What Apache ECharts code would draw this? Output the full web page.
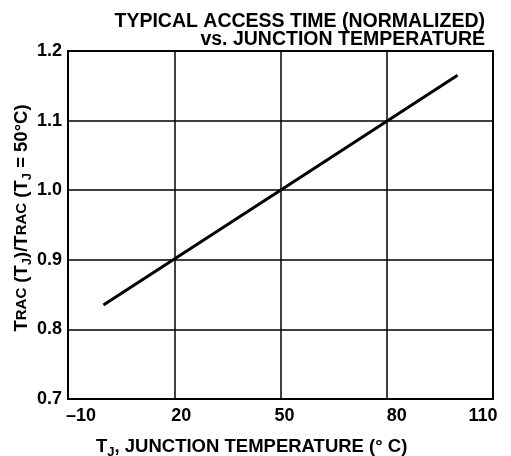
<!DOCTYPE html>
<html>
<head>
<meta charset="utf-8">
<script src="https://cdn.jsdelivr.net/npm/echarts@6/dist/echarts.min.js"></script>
<style>html,body{margin:0;padding:0;background:#fff}#c{width:511px;height:456px}</style>
</head>
<body>
<div id="c"></div>
<script>
// Data
const temperatures = [0, 50, 100];
const normalizedAccess = [0.835, 1.0, 1.165];
const xTicks = [-10, 20, 50, 80, 110];
const yTicks = [0.7, 0.8, 0.9, 1.0, 1.1, 1.2];

const FONT = '"Liberation Sans", Arial, Helvetica, sans-serif';
const chart = echarts.init(document.getElementById('c'), null, {renderer: 'canvas'});
const series = temperatures.map((t, i) => [t, normalizedAccess[i]]);

const xl = {fontFamily: FONT, fontSize: 18, fontWeight: 'bold', color: '#000'};
const xRich = {
  p0: Object.assign({padding: [0, 0, 0, 26]}, xl),
  p1: Object.assign({padding: [0, 0, 0, 14]}, xl),
  p2: Object.assign({padding: [0, 0, 0, 8]}, xl),
  p3: Object.assign({padding: [0, 0, 0, 20]}, xl),
  p4: Object.assign({padding: [0, 20, 0, 0]}, xl)
};

chart.setOption({
  backgroundColor: '#fff',
  animation: false,
  textStyle: {fontFamily: FONT},
  grid: {left: 68, right: 18, top: 51, bottom: 57, show: true, borderColor: '#000', borderWidth: 2},
  title: [
    {text: 'TYPICAL ACCESS TIME (NORMALIZED)', right: 21, top: 7,
     textStyle: {fontFamily: FONT, fontSize: 19.5, fontWeight: 'bold', color: '#000'}},
    {text: 'vs. JUNCTION TEMPERATURE', right: 21, top: 25,
     textStyle: {fontFamily: FONT, fontSize: 19.5, fontWeight: 'bold', color: '#000'}},
    {text: '{a|T}{s|J}{a|, JUNCTION TEMPERATURE (° C)}', left: 91, top: 430,
     textStyle: {fontFamily: FONT, rich: {
       a: {fontFamily: FONT, fontSize: 18.5, fontWeight: 'bold', color: '#000', lineHeight: 24, verticalAlign: 'middle'},
       s: {fontFamily: FONT, fontSize: 13, fontWeight: 'bold', color: '#000', lineHeight: 13, verticalAlign: 'bottom'}
     }}}
  ],
  graphic: [{
    type: 'text', x: 22, y: 218, rotation: Math.PI / 2,
    style: {
      text: '{a|T}{b|RAC}{a| (T}{s|J}{a|)/T}{b|RAC}{a| (T}{s|J}{a| = 50°C)}',
      align: 'center', verticalAlign: 'middle',
      rich: {
        a: {fontFamily: FONT, fontSize: 18.5, fontWeight: 'bold', fill: '#000', lineHeight: 24, verticalAlign: 'middle'},
        b: {fontFamily: FONT, fontSize: 15, fontWeight: 'bold', fill: '#000', lineHeight: 24, verticalAlign: 'middle'},
        s: {fontFamily: FONT, fontSize: 13, fontWeight: 'bold', fill: '#000', lineHeight: 13, verticalAlign: 'bottom'}
      }
    }
  }],
  xAxis: {
    type: 'value', min: xTicks[0], max: xTicks[xTicks.length - 1], interval: 30,
    axisLine: {onZero: false, lineStyle: {color: '#000', width: 2}},
    axisTick: {show: false},
    splitLine: {lineStyle: {color: '#000', width: 1.5}},
    axisLabel: {margin: 8, rich: xRich,
      formatter: v => {
        const i = xTicks.indexOf(v);
        const s = v < 0 ? '–' + Math.abs(v) : String(v);
        return '{p' + i + '|' + s + '}';
      }}
  },
  yAxis: {
    type: 'value', min: yTicks[0], max: yTicks[yTicks.length - 1], interval: 0.1,
    axisLine: {show: true, onZero: false, lineStyle: {color: '#000', width: 2}},
    axisTick: {show: false},
    splitLine: {lineStyle: {color: '#000', width: 1.5}},
    axisLabel: {fontFamily: FONT, fontSize: 18, fontWeight: 'bold', color: '#000', margin: 6,
      formatter: v => v.toFixed(1)}
  },
  series: [{
    type: 'line', data: series, symbol: 'none',
    lineStyle: {color: '#000', width: 3}
  }]
});
</script>
</body>
</html>
